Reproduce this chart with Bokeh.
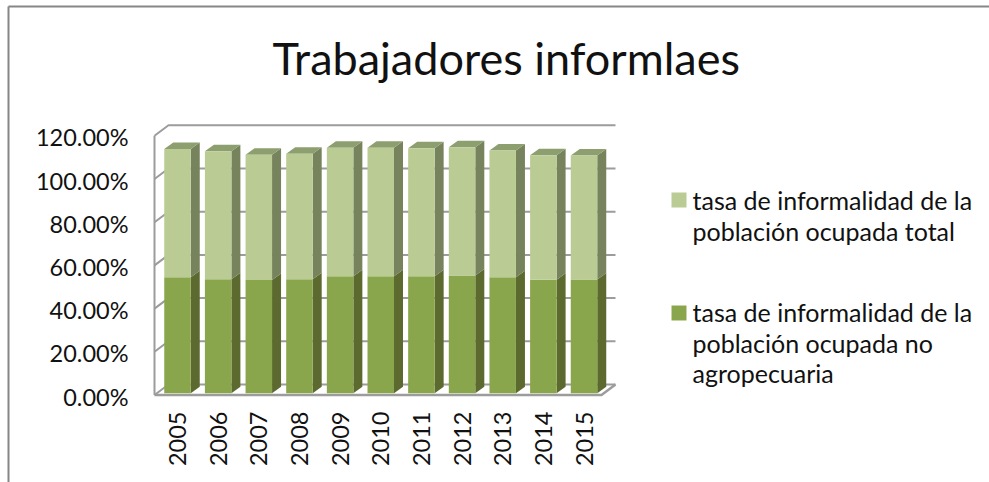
from bokeh.plotting import figure
from bokeh.embed import file_html
from bokeh.resources import INLINE
from bokeh.models import Range1d, FixedTicker, NumeralTickFormatter
from bokeh.core.properties import value

years = ["2005","2006","2007","2008","2009","2010","2011","2012","2013","2014","2015"]
no_agro = [53.7,52.8,52.4,52.8,54.2,54.2,54.2,54.5,53.7,52.5,52.6]
total_part = [59.3,59.2,58.0,58.0,59.4,59.4,59.2,59.4,58.7,57.7,57.4]
y_ticks = [0,20,40,60,80,100,120]
title_text = "Trabajadores informlaes"
legend_total = ["tasa de informalidad de la","población ocupada total"]
legend_no_agro = ["tasa de informalidad de la","población ocupada no","agropecuaria"]

FONT = "Lato"
LIGHT, LIGHT_SIDE, LIGHT_TOP = "#bacc94", "#76835c", "#8d9e6f"
GREEN, GREEN_SIDE = "#8aa64d", "#5c6a30"
GRID = "#9c9c9c"
BORDER = "#868686"
TEXT = "#111111"

# Pixel layout of the page
FIG_L, FIG_T, FIG_W, FIG_H = 0, 0, 989, 482
X0, PX_X = 177.0, 40.65      # centre of first category, px per category
Y0, PX_Y = 396.0, 2.16       # y pixel of value 0 on the axis labels, px per percent
fx = lambda px: (px - X0) / PX_X
fy = lambda py: (Y0 - py) / PX_Y

p = figure(width=FIG_W, height=FIG_H, output_backend="svg", toolbar_location=None,
           x_range=Range1d(fx(FIG_L), fx(FIG_L + FIG_W)),
           y_range=Range1d(fy(FIG_T + FIG_H), fy(FIG_T)),
           min_border=0, min_border_left=0, min_border_right=0, min_border_top=0, min_border_bottom=0,
           outline_line_color=None, tools="")
p.margin = (0, 0, 0, 0)
p.grid.visible = False

# Chart frame
p.line([fx(8), fx(8)], [fy(FIG_T + FIG_H), fy(6)], line_color=BORDER, line_width=2)
p.line([fx(8), fx(989)], [fy(6), fy(6)], line_color=BORDER, line_width=2)

# Walls and gridlines
BACK_L, BACK_R, FRONT_L, FRONT_R = fx(168), fx(615), fx(154), fx(601)
BACK_LIFT = (Y0 - 384) / PX_Y
FRONT_LIFT = (Y0 - 394.5) / PX_Y
for t in y_ticks:
    yb = t + BACK_LIFT
    yf = t + FRONT_LIFT
    p.line([FRONT_L, BACK_L, BACK_R], [yf, yb, yb], line_color=GRID, line_width=2)
p.line([FRONT_L, FRONT_L], [FRONT_LIFT, y_ticks[-1] + FRONT_LIFT], line_color=GRID, line_width=2)
p.line([FRONT_L, FRONT_R, BACK_R], [FRONT_LIFT, FRONT_LIFT, BACK_LIFT], line_color=GRID, line_width=2.5)

# 3D stacked bars
BAR_W = 26.5 / PX_X
DX, DY = 9 / PX_X, 6.5 / PX_Y
BASE = (Y0 - 392.7) / PX_Y
xs = list(range(len(years)))
lows = [BASE] * len(xs)
mids = [BASE + a for a in no_agro]
tops = [BASE + a + b for a, b in zip(no_agro, total_part)]

def side(x, y1, y2):
    r = x + BAR_W / 2
    return [r, r + DX, r + DX, r], [y1, y1 + DY, y2 + DY, y2]

def top(x, y):
    l, r = x - BAR_W / 2, x + BAR_W / 2
    return [l, r, r + DX, l + DX], [y, y, y + DY, y + DY]

for i in xs:
    sx, sy = side(i, lows[i], mids[i])
    p.patch(sx, sy, fill_color=GREEN_SIDE, line_color=None)
    sx, sy = side(i, mids[i], tops[i])
    p.patch(sx, sy, fill_color=LIGHT_SIDE, line_color=None)
    sx, sy = top(i, tops[i])
    p.patch(sx, sy, fill_color=LIGHT_TOP, line_color=None)
p.vbar(x=xs, width=BAR_W, bottom=lows, top=mids, fill_color=GREEN, line_color=None)
p.vbar(x=xs, width=BAR_W, bottom=mids, top=tops, fill_color=LIGHT, line_color=None)

# Axes placed inside the full-page frame
ax = p.yaxis[0]
ax.fixed_location = fx(134)
ax.ticker = FixedTicker(ticks=y_ticks)
ax.formatter = NumeralTickFormatter(format="0.00%")
ax.major_label_overrides = {t: f"{t:.2f}%" for t in y_ticks}
ax.axis_line_color = None
ax.major_tick_line_color = None
ax.minor_tick_line_color = None
ax.major_label_standoff = 0
ax.major_label_text_font = FONT
ax.major_label_text_font_size = "23.5px"
ax.major_label_text_color = TEXT

bx = p.xaxis[0]
bx.fixed_location = fy(405)
bx.ticker = FixedTicker(ticks=xs)
bx.major_label_overrides = {i: y for i, y in enumerate(years)}
bx.major_label_orientation = 1.5707963
bx.axis_line_color = None
bx.major_tick_line_color = None
bx.minor_tick_line_color = None
bx.major_label_standoff = 0
bx.major_label_text_font = FONT
bx.major_label_text_font_size = "23.5px"
bx.major_label_text_color = TEXT

# Title
p.text([fx(272)], [fy(57)], text=[title_text], text_font=value(FONT), text_font_size="45px",
       text_color=TEXT, text_align="left", text_baseline="alphabetic")

# Legend
for py, c in ((199.5, LIGHT), (312.5, GREEN)):
    p.rect([fx(678.5)], [fy(py)], width=15, height=15, width_units="screen", height_units="screen",
           fill_color=c, line_color=None)
baselines = [(199, legend_total[0]), (230, legend_total[1]), (311, legend_no_agro[0]),
             (342, legend_no_agro[1]), (372, legend_no_agro[2])]
p.text([fx(692)] * 5, [fy(b) for b, _ in baselines], text=[t for _, t in baselines],
       text_font=value(FONT), text_font_size="25px", text_color=TEXT,
       text_align="left", text_baseline="alphabetic")

open("out.html", "w").write(file_html(p, INLINE))
